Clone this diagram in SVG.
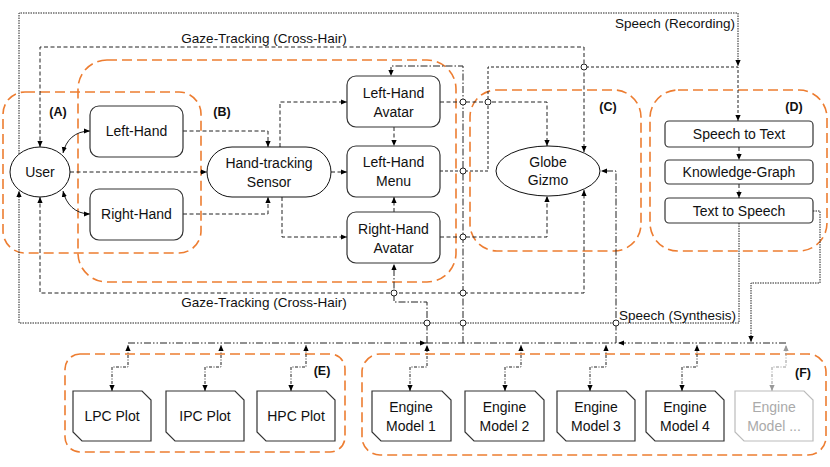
<svg xmlns="http://www.w3.org/2000/svg" width="830" height="467" viewBox="0 0 830 467">
<defs>
<marker id="a" viewBox="0 0 6 6" refX="6" refY="3" markerWidth="6" markerHeight="6" orient="auto-start-reverse" markerUnits="userSpaceOnUse"><path d="M0,0.4 L6,3 L0,5.6 Z" fill="#000"/></marker>
<marker id="g" viewBox="0 0 6 6" refX="6" refY="3" markerWidth="6" markerHeight="6" orient="auto-start-reverse" markerUnits="userSpaceOnUse"><path d="M0,0.4 L6,3 L0,5.6 Z" fill="#999"/></marker>
<style>
text{font-family:"Liberation Sans",Arial,sans-serif;font-size:14px;fill:#111;text-anchor:middle}
.lbl{font-size:13.5px}
.grp{font-weight:bold;font-size:12.5px}
.og{fill:none;stroke:#ED7D31;stroke-width:1.6;stroke-dasharray:10,5}
.n{fill:#fff;stroke:#333;stroke-width:1.2}
.e{fill:#fff;stroke:#111;stroke-width:1}
.c{fill:none;stroke:#222;stroke-width:1}
.d{stroke-dasharray:4,2.5}
.dd{stroke-dasharray:7,2,1.5,2}
.ddd{stroke-dasharray:7,2,1.5,2,1.5,2}
.fd{stroke-dasharray:1.5,1}
.md{stroke-dasharray:3,2}
.pd{stroke-dasharray:3,1.5,1,1.5}
.gr{stroke:#999}
.j{fill:#fff;stroke:#222;stroke-width:1}
</style>
</defs>

<g id="groups">
<rect class="og" x="3" y="92" width="198" height="161" rx="22"/>
<rect class="og" x="78" y="60" width="378" height="222" rx="29"/>
<rect class="og" x="470" y="90" width="171" height="161" rx="27"/>
<rect class="og" x="650" y="90" width="177" height="161" rx="28"/>
<rect class="og" x="65" y="354" width="280" height="98" rx="15"/>
<rect class="og" x="362" y="354" width="464" height="101" rx="18"/>
<text class="grp" x="58" y="116">(A)</text>
<text class="grp" x="222" y="116">(B)</text>
<text class="grp" x="608" y="111">(C)</text>
<text class="grp" x="794" y="111">(D)</text>
<text class="grp" x="322" y="375">(E)</text>
<text class="grp" x="803" y="377">(F)</text>
</g>

<g id="connectors">
<!-- speech lines -->
<path class="c fd" d="M19,154 V13 H738 V66" marker-end="url(#a)"/>
<path class="c fd" d="M739,223 V323 H19 V191" marker-end="url(#a)"/>
<path class="c fd" d="M813,211 H820 V283 H751 V342" marker-end="url(#a)"/>
<path class="c md" d="M440,171 H488 V67 H738 V121" marker-end="url(#a)"/>
<!-- gaze tracking -->
<path class="c d" d="M40,147 V47 H584 V152" marker-start="url(#a)" marker-end="url(#a)"/>
<path class="c d" d="M40,197 V293 H584 V190" marker-start="url(#a)" marker-end="url(#a)"/>
<!-- user / hands -->
<path class="c" d="M63,153 C66,140 75,131 90,131" marker-start="url(#a)" marker-end="url(#a)"/>
<path class="c" d="M63,191 C66,204 75,214 90,214" marker-start="url(#a)" marker-end="url(#a)"/>
<path class="c d" d="M70,172 H207" marker-end="url(#a)"/>
<path class="c d" d="M183,131 H268 V147" marker-end="url(#a)"/>
<path class="c d" d="M183,214 H268 V197" marker-end="url(#a)"/>
<!-- sensor outputs -->
<path class="c d" d="M280,147 V102 H347" marker-end="url(#a)"/>
<path class="c d" d="M282,197 V237 H347" marker-end="url(#a)"/>
<path class="c d" d="M331,172 H347" marker-end="url(#a)"/>
<path class="c d" d="M394,127 V146" marker-end="url(#a)"/>
<path class="c d" d="M394,212 V197" marker-end="url(#a)"/>
<path class="c d" d="M440,102 H547 V146" marker-end="url(#a)"/>
<path class="c d" d="M440,237 H547 V196" marker-end="url(#a)"/>
<!-- bus -->
<path class="c ddd" d="M128,343 H426" marker-end="url(#a)"/>
<path class="c ddd" d="M426,343 H618"/>
<path class="c ddd" d="M786,343 H618" marker-end="url(#a)"/>
<path class="c dd" d="M463,343 V66 H391 V76" marker-end="url(#a)"/>
<path class="c dd" d="M427,343 V302 H394 V264" marker-end="url(#a)"/>
<path class="c dd" d="M616,343 V171 H601" marker-end="url(#a)"/>
<!-- bottom nodes -->
<path class="c pd" d="M112,391 V367 H128 V345" marker-start="url(#a)" marker-end="url(#a)"/>
<path class="c pd" d="M205,391 V367 H221 V345" marker-start="url(#a)" marker-end="url(#a)"/>
<path class="c pd" d="M291,391 V367 H306 V345" marker-start="url(#a)" marker-end="url(#a)"/>
<path class="c pd" d="M410,391 V367 H427 V345" marker-start="url(#a)" marker-end="url(#a)"/>
<path class="c pd" d="M505,391 V367 H521 V345" marker-start="url(#a)" marker-end="url(#a)"/>
<path class="c pd" d="M590,391 V367 H606 V345" marker-start="url(#a)" marker-end="url(#a)"/>
<path class="c pd" d="M682,391 V367 H697 V345" marker-start="url(#a)" marker-end="url(#a)"/>
<path class="c pd gr" d="M772,391 V367 H786 V345" marker-start="url(#g)" marker-end="url(#g)"/>
<!-- crossing markers -->
<circle class="j" cx="463" cy="102" r="3"/>
<circle class="j" cx="488" cy="102" r="3"/>
<circle class="j" cx="584" cy="67" r="3"/>
<circle class="j" cx="463" cy="171" r="3"/>
<circle class="j" cx="463" cy="237" r="3"/>
<circle class="j" cx="463" cy="293" r="3"/>
<circle class="j" cx="394" cy="293" r="3"/>
<circle class="j" cx="427" cy="323" r="3"/>
<circle class="j" cx="463" cy="323" r="3"/>
<circle class="j" cx="616" cy="323" r="3"/>
<text class="lbl" x="264" y="43">Gaze-Tracking (Cross-Hair)</text>
<text class="lbl" x="264" y="307">Gaze-Tracking (Cross-Hair)</text>
<text class="lbl" x="735" y="28" style="text-anchor:end">Speech (Recording)</text>
<text class="lbl" x="619" y="320" style="text-anchor:start">Speech (Synthesis)</text>
</g>

<g id="user"><ellipse class="e" cx="40" cy="172" rx="30" ry="25"/><text x="40" y="177">User</text></g>
<g id="left-hand"><rect class="n" x="90" y="106" width="93" height="51" rx="9"/><text x="136.5" y="136">Left-Hand</text></g>
<g id="right-hand"><rect class="n" x="90" y="189" width="93" height="51" rx="9"/><text x="136.5" y="219">Right-Hand</text></g>
<g id="sensor"><rect class="e" x="207" y="147" width="124" height="50" rx="25"/><text x="269" y="168">Hand-tracking</text><text x="269" y="187">Sensor</text></g>
<g id="lh-avatar"><rect class="n" x="347" y="76" width="93" height="51" rx="9"/><text x="393.5" y="98">Left-Hand</text><text x="393.5" y="117">Avatar</text></g>
<g id="lh-menu"><rect class="n" x="347" y="146" width="93" height="51" rx="9"/><text x="393.5" y="167">Left-Hand</text><text x="393.5" y="186">Menu</text></g>
<g id="rh-avatar"><rect class="n" x="347" y="212" width="93" height="51" rx="9"/><text x="393.5" y="234">Right-Hand</text><text x="393.5" y="253">Avatar</text></g>
<g id="globe"><ellipse class="e" cx="548" cy="171" rx="52" ry="25"/><text x="548" y="167">Globe</text><text x="548" y="185">Gizmo</text></g>
<g id="stt"><rect class="n" x="665" y="121" width="148" height="26" rx="4"/><text x="739" y="139">Speech to Text</text></g>
<g id="kg"><rect class="n" x="665" y="160" width="148" height="24" rx="4"/><text x="739" y="177">Knowledge-Graph</text></g>
<g id="tts"><rect class="n" x="665" y="198" width="148" height="25" rx="4"/><text x="739" y="216">Text to Speech</text></g>
<g id="connectors-kg">
<path class="c d" d="M739,147 V160" marker-end="url(#a)"/>
<path class="c d" d="M739,184 V198" marker-end="url(#a)"/>
</g>

<g id="lpc"><path class="n" d="M73,391 H142 L151,400 V441 H82 L73,432 Z"/><text x="112" y="421">LPC Plot</text></g>
<g id="ipc"><path class="n" d="M166,391 H235 L244,400 V441 H175 L166,432 Z"/><text x="205" y="421">IPC Plot</text></g>
<g id="hpc"><path class="n" d="M257,391 H326 L335,400 V441 H266 L257,432 Z"/><text x="296" y="421">HPC Plot</text></g>
<g id="em1"><path class="n" d="M372,391 H442 L451,400 V441 H381 L372,432 Z"/><text x="411" y="412">Engine</text><text x="411" y="431">Model 1</text></g>
<g id="em2"><path class="n" d="M465,391 H535 L544,400 V441 H474 L465,432 Z"/><text x="504.5" y="412">Engine</text><text x="504.5" y="431">Model 2</text></g>
<g id="em3"><path class="n" d="M557,391 H626 L635,400 V441 H566 L557,432 Z"/><text x="596" y="412">Engine</text><text x="596" y="431">Model 3</text></g>
<g id="em4"><path class="n" d="M646,391 H715 L724,400 V441 H655 L646,432 Z"/><text x="685" y="412">Engine</text><text x="685" y="431">Model 4</text></g>
<g id="em-more"><path class="n" style="stroke:#bbb" d="M735,391 H804 L813,400 V441 H744 L735,432 Z"/><text x="774" y="412" style="fill:#aaa">Engine</text><text x="774" y="431" style="fill:#aaa">Model ...</text></g>
</svg>
